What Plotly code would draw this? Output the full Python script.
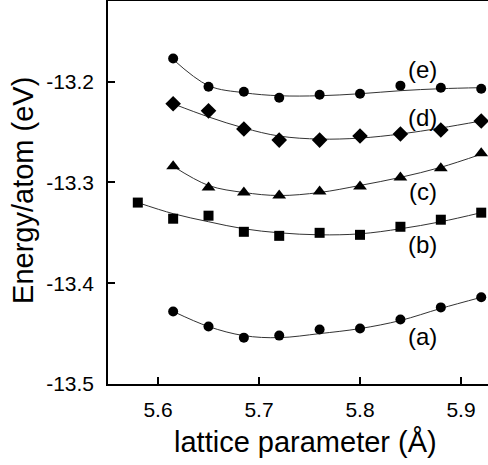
import plotly.graph_objects as go

x_lat = [5.615, 5.65, 5.685, 5.72, 5.76, 5.80, 5.84, 5.88, 5.92]
x_lat_b = [5.58, 5.615, 5.65, 5.685, 5.72, 5.76, 5.80, 5.84, 5.88, 5.92]

e_pts = [-13.177, -13.205, -13.210, -13.216, -13.213, -13.212, -13.204, -13.206, -13.207]
e_fit = [-13.178, -13.204, -13.211, -13.214, -13.214, -13.212, -13.209, -13.207, -13.206]

d_pts = [-13.222, -13.229, -13.247, -13.258, -13.258, -13.254, -13.252, -13.248, -13.239]
d_fit = [-13.222, -13.235, -13.246, -13.254, -13.257, -13.256, -13.252, -13.246, -13.239]

c_pts = [-13.284, -13.305, -13.310, -13.313, -13.309, -13.304, -13.295, -13.286, -13.271]
c_fit = [-13.284, -13.303, -13.310, -13.313, -13.310, -13.303, -13.295, -13.285, -13.272]

b_pts = [-13.320, -13.336, -13.333, -13.349, -13.353, -13.350, -13.352, -13.344, -13.337, -13.330]
b_fit = [-13.320, -13.331, -13.339, -13.346, -13.350, -13.352, -13.351, -13.346, -13.339, -13.330]

a_pts = [-13.428, -13.443, -13.454, -13.452, -13.446, -13.445, -13.436, -13.424, -13.414]
a_fit = [-13.428, -13.443, -13.452, -13.454, -13.450, -13.445, -13.437, -13.425, -13.414]

labels = ["(e)", "(d)", "(c)", "(b)", "(a)"]
label_x = [5.862, 5.862, 5.862, 5.862, 5.862]
label_y = [-13.188, -13.236, -13.309, -13.362, -13.453]

series = [
    (x_lat, e_pts, e_fit, "circle", 10),
    (x_lat, d_pts, d_fit, "diamond", 12),
    (x_lat, c_pts, c_fit, "triangle-up", 12),
    (x_lat_b, b_pts, b_fit, "square", 10),
    (x_lat, a_pts, a_fit, "circle", 10),
]

fig = go.Figure()
for xs, pts, fit, sym, sz in series:
    fig.add_trace(go.Scatter(x=xs, y=fit, mode="lines", line=dict(color="#333333", width=1, shape="spline"),
                             showlegend=False, hoverinfo="skip"))
    fig.add_trace(go.Scatter(x=xs, y=pts, mode="markers", cliponaxis=False,
                             marker=dict(symbol=sym, size=sz, color="black", line=dict(width=0)),
                             showlegend=False))

for t, lx, ly in zip(labels, label_x, label_y):
    fig.add_annotation(x=lx, y=ly, text=t, showarrow=False, xanchor="center", yanchor="middle",
                       font=dict(size=24, color="black"))

fig.add_annotation(xref="paper", yref="paper", x=0.521, y=-0.152, text="lattice parameter (Å)",
                   showarrow=False, xanchor="center", yanchor="middle", font=dict(size=29, color="black"))
fig.add_annotation(xref="paper", yref="paper", x=-0.224, y=0.5065, text="Energy/atom (eV)", textangle=-90,
                   showarrow=False, xanchor="center", yanchor="middle", font=dict(size=29, color="black"))

fig.update_xaxes(range=[5.5505, 5.9267], tickvals=[5.6, 5.7, 5.8, 5.9], ticktext=["5.6", "5.7", "5.8", "5.9"],
                 ticks="inside", ticklen=7, tickwidth=1.5, tickcolor="black",
                 showline=True, linecolor="black", linewidth=1.5, mirror=True,
                 showgrid=False, zeroline=False, tickfont=dict(size=21, color="black"),
                 ticklabelstandoff=6, automargin=False)
fig.update_yaxes(range=[-13.5, -13.12], tickvals=[-13.5, -13.4, -13.3, -13.2],
                 ticktext=["-13.5", "-13.4", "-13.3", "-13.2"],
                 ticks="inside", ticklen=7, tickwidth=1.5, tickcolor="black",
                 showline=True, linecolor="black", linewidth=1.5, mirror=False,
                 showgrid=False, zeroline=False, tickfont=dict(size=21, color="black"),
                 ticklabelstandoff=8, automargin=False)

fig.update_layout(width=488, height=465, margin=dict(l=108, r=0, t=1, b=81, autoexpand=False),
                  plot_bgcolor="white", paper_bgcolor="white",
                  font=dict(family="Liberation Sans, Arial, sans-serif", color="black"))

fig.write_html("out.html", config={"displayModeBar": False},
               post_script="document.body.style.margin='0';document.body.style.overflow='hidden';")
